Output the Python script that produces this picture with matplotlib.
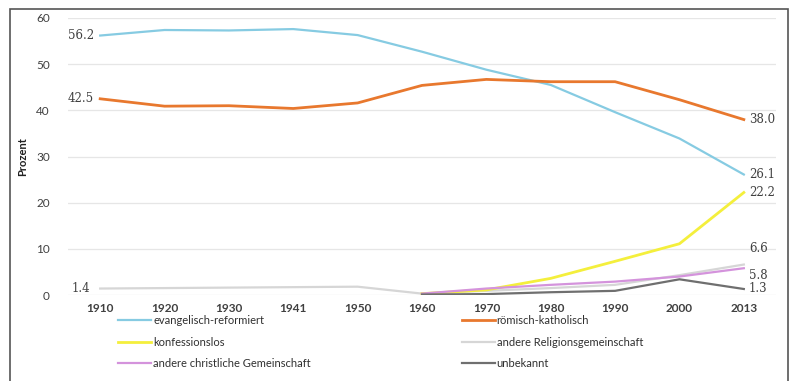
import matplotlib
matplotlib.use('Agg')
import matplotlib.pyplot as plt
from matplotlib.patches import Rectangle

years = ['1910', '1920', '1930', '1941', '1950', '1960', '1970', '1980', '1990', '2000', '2013']

evang = [56.2, 57.4, 57.3, 57.6, 56.3, 52.7, 48.8, 45.5, 39.6, 33.9, 26.1]
kath = [42.5, 40.9, 41.0, 40.4, 41.6, 45.4, 46.7, 46.2, 46.2, 42.3, 38.0]
andere_rel = [1.4, 1.5, 1.6, 1.7, 1.8, 0.3, 0.9, 1.5, 2.2, 4.3, 6.6]
# series that start in 1960
konf = [0.3, 1.1, 3.6, 7.3, 11.1, 22.2]
andere_christ = [0.3, 1.4, 2.2, 2.9, 4.0, 5.8]
unbekannt = [0.1, 0.2, 0.6, 0.9, 3.4, 1.3]

plt.rcParams['font.family'] = ['Lato', 'DejaVu Sans']

fig = plt.figure(figsize=(7.94, 3.81), dpi=100)
ax = fig.add_axes([68/794, 1 - 295/381, (776 - 68)/794, (295 - 18)/381])

x = list(range(len(years)))
x60 = x[5:]

l_ev, = ax.plot(x, evang, color='#86cbe2', lw=1.6, label='evangelisch-reformiert')
l_ka, = ax.plot(x, kath, color='#e8782e', lw=2.0, label='römisch-katholisch')
l_ar, = ax.plot(x, andere_rel, color='#d6d6d6', lw=1.6, label='andere Religionsgemeinschaft')
l_ko, = ax.plot(x60, konf, color='#f4ef3c', lw=2.0, label='konfessionslos')
l_ac, = ax.plot(x60, andere_christ, color='#d493dc', lw=1.6, label='andere christliche Gemeinschaft')
l_un, = ax.plot(x60, unbekannt, color='#6f6f6f', lw=1.6, label='unbekannt')

ax.set_xlim(-0.5, len(years) - 0.5)
ax.set_ylim(0, 60)
ax.set_yticks([0, 10, 20, 30, 40, 50, 60])
ax.set_xticks(x)
ax.set_xticklabels(years, fontweight='bold')
ax.tick_params(axis='both', length=0, labelsize=8.5, labelcolor='#404040')
ax.tick_params(axis='y', pad=13)
ax.tick_params(axis='x', pad=6)
ax.grid(axis='y', color='#e6e6e6', lw=0.9)
ax.set_axisbelow(True)
for s in ax.spines.values():
    s.set_visible(False)
ax.set_ylabel('Prozent', fontsize=8, fontweight='bold', color='#202020', labelpad=6)

lab = dict(family=['DejaVu Serif'], fontsize=8.5, color='#404040', va='center')
ax.text(-0.1, evang[0], f'{evang[0]:.1f}', ha='right', **lab)
ax.text(-0.1, kath[0], f'{kath[0]:.1f}', ha='right', **lab)
ax.text(-0.15, andere_rel[0], f'{andere_rel[0]:.1f}', ha='right', **lab)
ax.text(10.08, kath[-1], f'{kath[-1]:.1f}', ha='left', **lab)
ax.text(10.08, evang[-1], f'{evang[-1]:.1f}', ha='left', **lab)
ax.text(10.08, konf[-1], f'{konf[-1]:.1f}', ha='left', **lab)
ax.text(10.08, andere_rel[-1] + 3.5, f'{andere_rel[-1]:.1f}', ha='left', **lab)
ax.text(10.08, andere_christ[-1] - 1.5, f'{andere_christ[-1]:.1f}', ha='left', **lab)
ax.text(10.08, unbekannt[-1], f'{unbekannt[-1]:.1f}', ha='left', **lab)

handles = [l_ev, l_ko, l_ac, l_ka, l_ar, l_un]
fig.legend(handles=handles, labels=[h.get_label() for h in handles],
           loc='upper left', bbox_to_anchor=(108/794, 1 - 305/381), ncol=2,
           frameon=False, fontsize=8, handlelength=3.0, handletextpad=0.15,
           columnspacing=13.6, labelspacing=0.95, labelcolor='#303030')

fig.patches.append(Rectangle((10/794, -0.01), 778/794, 1 - 9/381 + 0.01,
                             transform=fig.transFigure, fill=False,
                             edgecolor='#555555', lw=1.2))

fig.savefig('out.png', dpi=100)
